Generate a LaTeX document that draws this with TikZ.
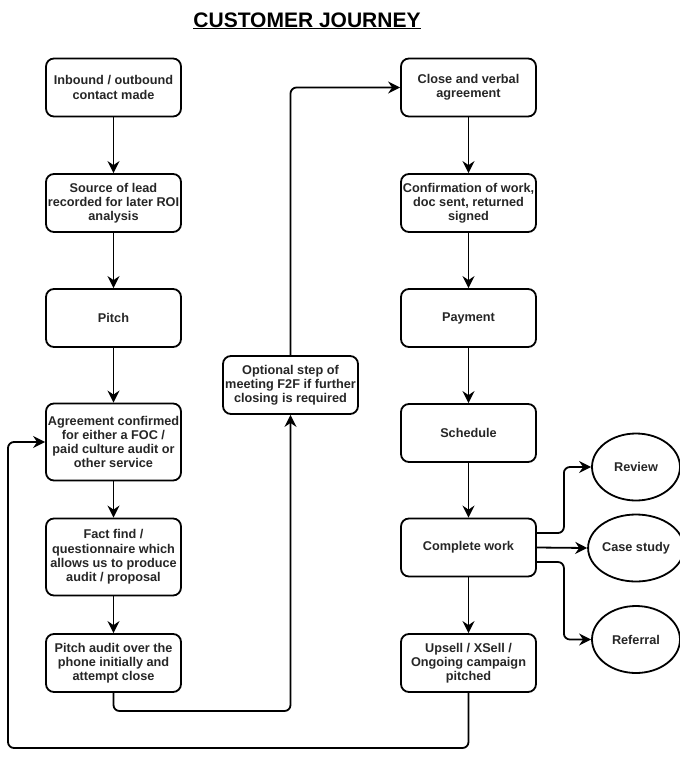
\documentclass[tikz,border=0pt]{standalone}
\usepackage{fontspec}
\setmainfont{Liberation Sans}
\usetikzlibrary{arrows.meta,shapes.geometric}
\begin{document}
\begin{tikzpicture}[x=1pt,y=-1pt,
  txt/.style={font=\bfseries\fontsize{12.7}{14.2}\selectfont, text=black!85},
  box/.style={txt, draw, rectangle, rounded corners=8pt, line width=1.8pt,
    minimum width=135pt, minimum height=58pt, align=center, inner sep=1pt},
  tall/.style={box, minimum height=77pt},
  oval/.style={txt, draw, ellipse, line width=1.8pt, minimum width=88pt,
    minimum height=67pt, inner sep=0pt},
  arr/.style={line width=1.8pt, -{Stealth[length=12pt,width=12pt,inset=4pt]}},
  conn/.style={arr, rounded corners=6pt}]
\useasboundingbox (0,0) rectangle (680,758);
\fill[white] (0,0) rectangle (680,758);

\node[font=\bfseries\fontsize{21}{25}\selectfont, anchor=base, inner sep=0pt] (title) at (307,27) {\underline{CUSTOMER JOURNEY}};

% left column
\node[box]  (n1) at (113.5,87.5) {Inbound / outbound\\contact made};
\node[box]  (n2) at (113.5,203) {Source of lead\\recorded for later ROI\\analysis};
\node[box]  (n3) at (113.5,318) {Pitch};
\node[tall] (n4) at (113.5,442) {Agreement confirmed\\for either a FOC /\\paid culture audit or\\other service};
\node[tall] (n5) at (113.5,557) {Fact find /\\questionnaire which\\allows us to produce\\audit / proposal};
\node[box]  (n6) at (113.5,663) {Pitch audit over the\\phone initially and\\attempt close};

% middle
\node[box] (opt) at (290.5,385) {Optional step of\\meeting F2F if further\\closing is required};

% right column
\node[box] (r1) at (468.5,87.5) {Close and verbal\\agreement};
\node[box] (r2) at (468.5,203) {Confirmation of work,\\doc sent, returned\\signed};
\node[box] (r3) at (468.5,318) {Payment};
\node[box] (r4) at (468.5,433) {Schedule};
\node[box] (r5) at (468.5,547.5) {Complete work};
\node[box] (r6) at (468.5,663) {Upsell / XSell /\\Ongoing campaign\\pitched};

% outcomes
\node[oval] (e1) at (636,467) {Review};
\node[oval] (e2) at (636,548) {Case study};
\node[oval] (e3) at (636,639.5) {Referral};

\coordinate (loopB) at (468.5,748);
\coordinate (loopL) at (8,748);
\coordinate (midB) at (113.5,711);

% connectors
\draw[arr] (n1) -- (n2);
\draw[arr] (n2) -- (n3);
\draw[arr] (n3) -- (n4);
\draw[arr] (n4) -- (n5);
\draw[arr] (n5) -- (n6);
\draw[conn] (n6.south) -- (midB) -| (opt.south);
\draw[conn] (opt.north) |- (r1.west);
\draw[arr] (r1) -- (r2);
\draw[arr] (r2) -- (r3);
\draw[arr] (r3) -- (r4);
\draw[arr] (r4) -- (r5);
\draw[arr] (r5) -- (r6);
\draw[conn] (r6.south) -- (loopB) -- (loopL) |- (n4.west);
\draw[conn] ([yshift=14.5pt]r5.east) -- ++(27,0) |- (e1.west);
\draw[arr] (r5.east) -- (e2.west);
\draw[conn] ([yshift=-14.5pt]r5.east) -- ++(27,0) |- (e3.west);
\end{tikzpicture}
\end{document}
